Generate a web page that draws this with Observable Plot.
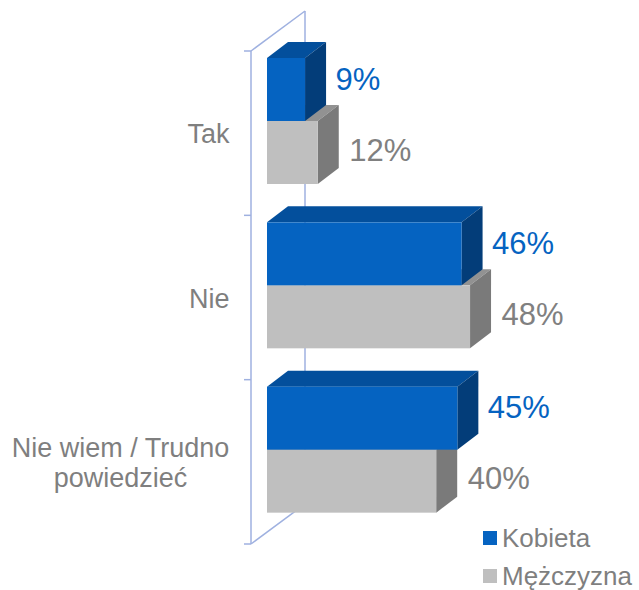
<!DOCTYPE html>
<html><head><meta charset="utf-8">
<script src="https://cdn.jsdelivr.net/npm/d3@7"></script>
<script src="https://cdn.jsdelivr.net/npm/@observablehq/plot@0.6"></script>
<style>body{margin:0;background:#fff} svg{display:block}</style>
</head><body><div id="chart"></div>
<script>
// ---- data ----
const categories = ["Tak", "Nie", "Nie wiem / Trudno powiedzieć"];
const categoryLabels = ["Tak", "Nie", "Nie wiem / Trudno\npowiedzieć"];
const series = ["Kobieta", "Mężczyzna"];
const kobieta = [9, 46, 45];
const mezczyzna = [12, 48, 40];

// ---- styling ----
const FONT = "'Liberation Sans', Arial, sans-serif";
const colors = {
  "Kobieta":   {front: "#0563C1", top: "#034F9C", side: "#033D79", text: "#0563C1"},
  "Mężczyzna": {front: "#BFBFBF", top: "#929292", side: "#7A7A7A", text: "#808080"}
};
const DX = 21, DY = -16;          // bar depth
const BAR_TOP = 7, BAR_H = 63;    // position of bars within band
const WALL_DX = 54, WALL_DY = -40, WALL_OFF = -16;
const Y_RANGE = [51, 544];
const BW = (Y_RANGE[1] - Y_RANGE[0]) / categories.length;
const CAT_SIZE = 27, LABEL_GAP = 38;

const data = [];
categories.forEach((c, i) => {
  data.push({cat: c, series: "Kobieta", value: kobieta[i]});
  data.push({cat: c, series: "Mężczyzna", value: mezczyzna[i]});
});
const bySeries = s => data.filter(d => d.series === s);

// measure label width for centred multi-line labels
const ctx = document.createElement("canvas").getContext("2d");
ctx.font = `${CAT_SIZE}px ${FONT}`;
const labelWidth = t => Math.max(...t.split("\n").map(l => ctx.measureText(l).width));

function wall(index, {x, y}) {
  const g = d3.create("svg:g").attr("fill", "none").attr("stroke", "#9FB1E0").attr("stroke-width", 1.5);
  const xl = x(0) + WALL_OFF;
  const yT = y(categories[0]);
  const yB = y(categories[categories.length - 1]) + BW;
  const pts = [[xl, yT, xl, yB], [xl + WALL_DX, yT + WALL_DY, xl + WALL_DX, yB + WALL_DY],
               [xl, yT, xl + WALL_DX, yT + WALL_DY], [xl, yB, xl + WALL_DX, yB + WALL_DY]];
  for (let i = 0; i <= categories.length; i++) {
    const yy = yT + i * BW;
    pts.push([xl - 7, yy, xl, yy]);
  }
  for (const [a, b, c, d] of pts) g.append("line").attr("x1", a).attr("y1", b).attr("x2", c).attr("y2", d);
  return g.node();
}

function depthFaces(s) {
  return (index, {x, y}) => {
    const g = d3.create("svg:g");
    const si = series.indexOf(s);
    const x0 = x(0);
    for (const d of bySeries(s)) {
      const top = y(d.cat) + BAR_TOP + si * BAR_H;
      const bot = top + BAR_H;
      const x1 = x(d.value);
      g.append("path").attr("fill", colors[s].top)
        .attr("d", `M${x0},${top}L${x0 + DX},${top + DY}L${x1 + DX},${top + DY}L${x1},${top}Z`);
      g.append("path").attr("fill", colors[s].side)
        .attr("d", `M${x1},${top}L${x1 + DX},${top + DY}L${x1 + DX},${bot + DY}L${x1},${bot}Z`);
    }
    return g.node();
  };
}

function frontBars(s) {
  const si = series.indexOf(s);
  const insetTop = BAR_TOP + si * BAR_H;
  return Plot.barX(bySeries(s), {
    x: "value", y: "cat", fill: colors[s].front,
    insetTop, insetBottom: BW - insetTop - BAR_H
  });
}

function legend() {
  const g = d3.create("svg:g").attr("font-size", 26).attr("fill", "#7F7F7F").attr("text-anchor", "start");
  const rows = [538, 576];
  series.forEach((s, i) => {
    g.append("rect").attr("x", 483).attr("y", rows[i] - 7).attr("width", 14).attr("height", 14)
      .attr("fill", colors[s].front);
    g.append("text").attr("x", 502).attr("y", rows[i] + 9).text(s);
  });
  return g.node();
}

const categoryMarks = categories.map((c, i) => Plot.text([c], {
  x: () => 0, y: d => d, text: () => categoryLabels[i],
  dx: -LABEL_GAP - labelWidth(categoryLabels[i]) / 2,
  textAnchor: "middle", fontSize: CAT_SIZE, fill: "#7F7F7F", lineHeight: 1.1
}));

const chart = Plot.plot({
  width: 639,
  height: 590,
  margin: 0,
  style: {fontFamily: FONT, background: "#fff"},
  x: {domain: [0, 80], range: [267, 267 + 80 * 4.23], axis: null},
  y: {type: "band", domain: categories, range: Y_RANGE, padding: 0, round: false, axis: null},
  marks: [
    wall,
    depthFaces("Mężczyzna"),
    frontBars("Mężczyzna"),
    depthFaces("Kobieta"),
    frontBars("Kobieta"),
    ...categoryMarks,
    Plot.text(bySeries("Kobieta"), {
      x: "value", y: "cat", text: d => d.value + "%",
      dx: 30, dy: -54, textAnchor: "start", fontSize: 31, fill: colors["Kobieta"].text
    }),
    Plot.text(bySeries("Mężczyzna"), {
      x: "value", y: "cat", text: d => d.value + "%",
      dx: 31, dy: 17, textAnchor: "start", fontSize: 31, fill: colors["Mężczyzna"].text
    }),
    legend
  ]
});
document.getElementById("chart").appendChild(chart);
</script>
</body></html>
